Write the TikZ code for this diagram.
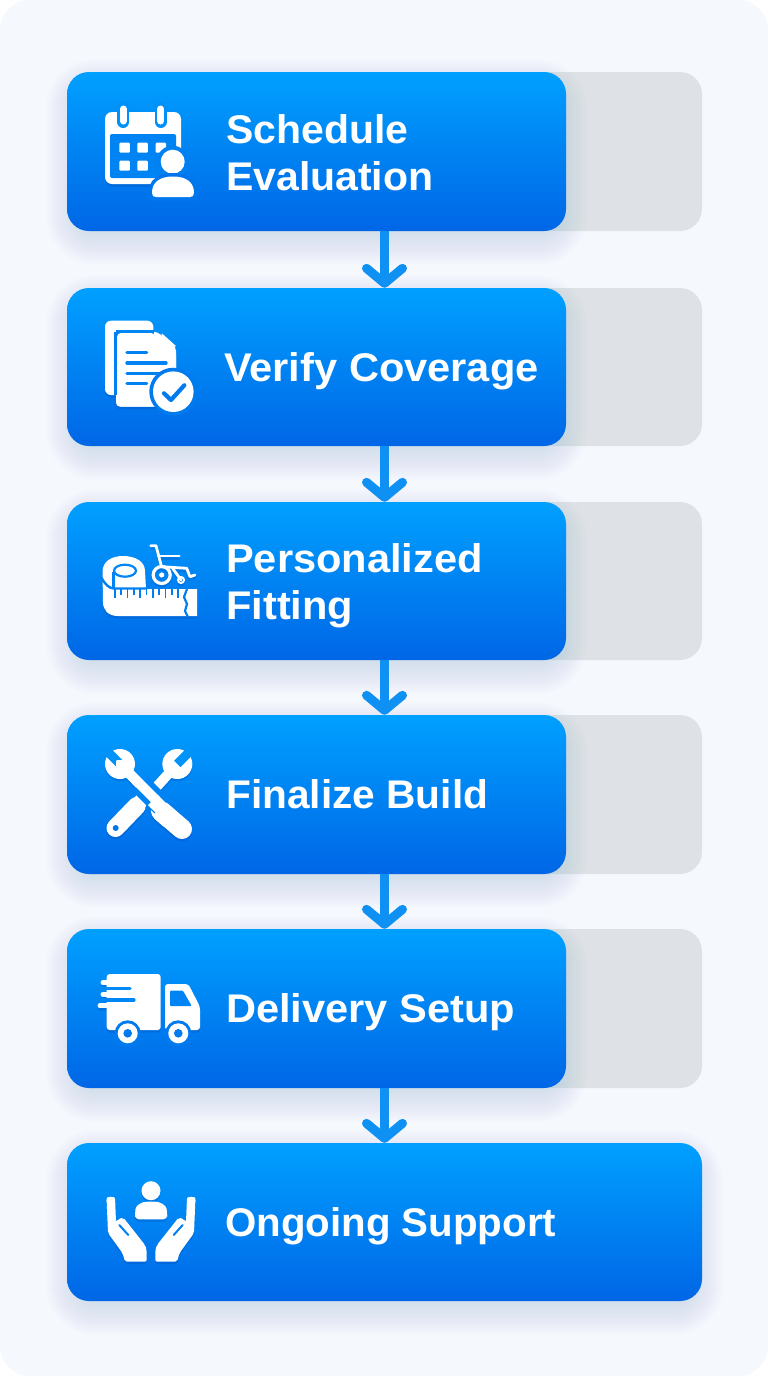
\documentclass[tikz,border=0pt]{standalone}
\usepackage{fontspec}
\setmainfont{Liberation Sans}[FakeStretch=1.04]
\usetikzlibrary{arrows.meta}
\definecolor{panelbg}{HTML}{F5F8FD}
\definecolor{trackgray}{HTML}{DEE1E6}
\definecolor{topblue}{HTML}{00A0FF}
\definecolor{botblue}{HTML}{0066E6}
\definecolor{flowblue}{HTML}{0F90F3}
\definecolor{shadeblue}{HTML}{0A6AE0}
\definecolor{icoshade}{HTML}{0046B0}
\tikzset{
  track/.style={fill=trackgray,rounded corners=22pt,inner sep=0pt,minimum width=635pt},
  card/.style={top color=topblue,bottom color=botblue,rounded corners=22pt,inner sep=0pt,minimum width=499pt},
  widecard/.style={card,minimum width=635pt},
  lab/.style={text=white,anchor=base west,inner sep=0pt,align=left,font=\fontsize{40}{47}\selectfont\bfseries,transform shape,xscale=#1},
  lab/.default=1,
  flow/.style={draw=flowblue,line width=9pt,-{Straight Barb[length=15pt,width=36pt,round,line width=9pt]}}
}
\newcommand{\softshadow}[4]{%
  \foreach \r in {1,3,...,31}{%
    \fill[shadeblue,opacity=0.009,rounded corners=18pt+\r pt]
      ({#1+10-\r},{#2+18-\r}) rectangle ({#3-10+\r},{#4+3+\r});
  }%
}
% mix = percentage of the card's top colour at the height of the cut-out
\newcommand{\cb}[1]{topblue!#1!botblue}
% #1 silhouette, #2 cut-outs and details
\newcommand{\glyphicon}[2]{%
  \begin{scope}
    \colorlet{icofg}{white}
    \begin{scope}[transparency group,opacity=.25,yshift=-2.5pt]
      \colorlet{icofg}{icoshade}#1
    \end{scope}
    #1
    #2
  \end{scope}%
}
\begin{document}
\begin{tikzpicture}[x=1pt,y=-1pt]
\useasboundingbox (0,0) rectangle (768,1376);
\fill[white] (0,0) rectangle (768,1376);
\fill[panelbg,rounded corners=30pt] (0,0) rectangle (768,1376);

% grey tracks
\node[track,minimum height=159pt] (t1) at (384.5,151.5) {};
\node[track,minimum height=158pt] (t2) at (384.5,367) {};
\node[track,minimum height=158pt] (t3) at (384.5,581) {};
\node[track,minimum height=159pt] (t4) at (384.5,794.5) {};
\node[track,minimum height=159pt] (t5) at (384.5,1008.5) {};

% shadows
\softshadow{67}{72}{566}{231}
\softshadow{67}{288}{566}{446}
\softshadow{67}{502}{566}{660}
\softshadow{67}{715}{566}{874}
\softshadow{67}{929}{566}{1088}
\softshadow{67}{1143}{702}{1301}

% cards
\node[card,minimum height=159pt] (c1) at (316.5,151.5) {};
\node[card,minimum height=158pt] (c2) at (316.5,367) {};
\node[card,minimum height=158pt] (c3) at (316.5,581) {};
\node[card,minimum height=159pt] (c4) at (316.5,794.5) {};
\node[card,minimum height=159pt] (c5) at (316.5,1008.5) {};
\node[widecard,minimum height=158pt] (c6) at (384.5,1222) {};

% connectors
\draw[flow] (t1.south) -- (t2.north);
\draw[flow] (t2.south) -- (t3.north);
\draw[flow] (t3.south) -- (t4.north);
\draw[flow] (t4.south) -- (t5.north);
\draw[flow] (t5.south) -- (c6.north);

% labels
\node[lab=.985] (l1) at (226,190) {Schedule\\Evaluation};
\node[lab] (l2) at (224,381) {Verify Coverage};
\node[lab] (l3) at (226,619) {Personalized\\Fitting};
\node[lab=.977] (l4) at (226,808) {Finalize Build};
\node[lab] (l5) at (226,1022) {Delivery Setup};
\node[lab=.968] (l6) at (225,1236) {Ongoing Support};

% icon 1: calendar and person
\glyphicon{%
  \fill[icofg,rounded corners=7pt] (105,112) rectangle (181,184);
  \draw[icofg,line width=7pt,line cap=round] (123.3,109) -- (123.3,121);
  \draw[icofg,line width=7pt,line cap=round] (160.7,109) -- (160.7,121);
  \fill[icofg] (172.7,161.7) circle (12);
  \fill[icofg] (152,193) .. controls (152,182) and (160,176.5) .. (173,176.5) .. controls (186,176.5) and (194,182) .. (194,193) .. controls (194,196) and (192,197) .. (190,197) -- (156,197) .. controls (153.5,197) and (152,196) .. (152,193) -- cycle;
}{%
  \fill[\cb{50},rounded corners=2pt] (110,134) rectangle (176,178);
  \foreach \x in {123.3,160.7}{%
    \draw[\cb{72},line width=12pt,line cap=round] (\x,108) -- (\x,122);
    \draw[white,line width=7pt,line cap=round] (\x,109) -- (\x,121);
  }
  \foreach \x/\y in {119.3/142.7,137.3/142.7,155.7/142.7,119.3/160.7,137.3/160.7}{%
    \fill[white,rounded corners=1pt] (\x,\y) rectangle +(10.5,10);
  }
  \fill[\cb{45}] (172.7,161.7) circle (16);
  \fill[white] (172.7,161.7) circle (12);
  \filldraw[draw=\cb{27},fill=\cb{27},line width=7pt] (152,193) .. controls (152,182) and (160,176.5) .. (173,176.5) .. controls (186,176.5) and (194,182) .. (194,193) -- (194,197) -- (152,197) -- cycle;
  \fill[white] (152,193) .. controls (152,182) and (160,176.5) .. (173,176.5) .. controls (186,176.5) and (194,182) .. (194,193) .. controls (194,196) and (192,197) .. (190,197) -- (156,197) .. controls (153.5,197) and (152,196) .. (152,193) -- cycle;
}

% icon 2: documents and check
\glyphicon{%
  \fill[icofg,rounded corners=6pt] (105,320.7) rectangle (153.3,395);
  \fill[icofg,rounded corners=4pt] (116,331.7) -- (157,331.7) -- (176,347) -- (176,406.7) -- (116,406.7) -- cycle;
  \fill[icofg] (173.3,391.7) circle (20.3);
}{%
  \draw[\cb{55},line width=4pt,rounded corners=4pt] (116,331.7) -- (153.5,331.7);
  \draw[\cb{45},line width=4pt] (116,331.7) -- (116,395);
  \fill[white,rounded corners=4pt] (117,333) -- (155,333) -- (157,347) -- (162,350) -- (176,351) -- (176,406.7) -- (117,406.7) -- cycle;
  \fill[white,rounded corners=1pt] (161.5,333) -- (176.5,346.5) -- (163,346.5) -- cycle;
  \foreach \a/\b in {352.3/146.7,363/166,373.3/166,383.7/146.7}{%
    \draw[\cb{48},line width=3.4pt,line cap=round] (127,\a) -- (\b,\a);
  }
  \fill[\cb{35}] (173.3,391.7) circle (24);
  \fill[white] (173.3,391.7) circle (20.3);
  \draw[\cb{35},line width=4.2pt,line cap=round,line join=round] (164,393.3) -- (171,400) -- (184.3,385.3);
}

% icon 3: tape and wheelchair
\glyphicon{%
  \fill[icofg] (102.5,572) .. controls (102.5,561) and (112,556) .. (123,556) .. controls (136,556) and (145,562) .. (145,571) -- (146,589) -- (197,589) -- (197,616) -- (118,616) .. controls (108,616) and (103,610) .. (103,602) -- cycle;
  \draw[icofg,line width=2.8pt,line cap=round,line join=round] (150.7,545.7) -- (156,545.7) -- (161.5,566.7) -- (186.7,568.3) -- (190,576.7) -- (195,575);
  \draw[icofg,line width=2.8pt,line cap=round] (158.3,556) -- (179.3,556);
  \draw[icofg,line width=2.8pt,line cap=round] (172,567.5) -- (181,580);
  \draw[icofg,line width=3.2pt] (161.7,575) circle (8.5);
  \fill[icofg] (161.7,575) circle (2.6);
  \draw[icofg,line width=2pt] (181,580) circle (3);
}{%
  \draw[\cb{55},line width=2.2pt] (125,570.7) ellipse (11 and 6);
  \draw[\cb{52},line width=2.2pt] (113.5,572) -- (113.5,588);
  \draw[\cb{45},line width=2.4pt] (101.5,578) .. controls (105,584) and (109,588.5) .. (114,588.5) -- (147,588.5);
  \foreach \x [count=\i] in {115,121.3,127.6,133.9,140.2,146.5,152.8,159.1,165.4,171.7,178}{%
    \pgfmathsetmacro{\tl}{mod(\i,2)==1 ? 598 : 595}
    \draw[\cb{42},line width=1.7pt] (\x,589) -- (\x,\tl);
  }
  \draw[\cb{42},line width=2.2pt,line join=round] (187,589) -- (184,597) -- (187,604) -- (185,611) -- (188,617);
}

% icon 4: crossed tools
\glyphicon{%
  \fill[icofg] (120,764) circle (15);
  \fill[icofg] (177.3,764) circle (15);
  \draw[icofg,line width=10pt] (177.3,764) -- (156.7,786.7);
  \draw[icofg,line width=18pt,line cap=round] (136.7,806) -- (115.5,828);
  \draw[icofg,line width=14pt] (145,796) -- (136.7,806);
  \draw[icofg,line width=10pt] (120,764) -- (158,803);
  \draw[icofg,line width=20pt,line cap=round] (161,811) -- (182,829);
}{%
  \draw[\cb{78},line width=9pt] (108,752) -- (120,764);
  \draw[\cb{78},line width=9pt] (189.3,752) -- (177.3,764);
  \draw[\cb{50},line width=21pt] (140,784) -- (162,806);
  \fill[white,rounded corners=1pt] (116,760) -- (123,760) -- (160,797) -- (153,804) -- (116,767) -- cycle;
  \draw[white,line width=14pt] (153,810) -- (163,800);
  \draw[white,line width=20pt] (161,811) -- (170,819);
  \fill[\cb{29}] (115.7,828) circle (3);
}

% icon 5: delivery truck
\glyphicon{%
  \fill[icofg,rounded corners=3pt] (106.7,974) rectangle (160.7,1030);
  \draw[icofg,line width=5pt,line cap=round] (103,982.7) -- (120,982.7);
  \draw[icofg,line width=5pt,line cap=round] (103,994.3) -- (125,994.3);
  \draw[icofg,line width=5pt,line cap=round] (100,1005.7) -- (120,1005.7);
  \fill[icofg,rounded corners=3pt] (165,984) -- (188.3,984) -- (200,1006.7) -- (200,1030) -- (165,1030) -- cycle;
  \fill[icofg] (127.7,1033.3) circle (10);
  \fill[icofg] (178.3,1033.3) circle (10);
}{%
  \draw[\cb{62},line width=3.2pt,line cap=round] (100,988.5) -- (130,988.5);
  \draw[\cb{55},line width=3.2pt,line cap=round] (100,1000) -- (134,1000);
  \fill[\cb{52},rounded corners=1pt] (170,990.7) -- (183,990.7) -- (191.7,1006) -- (170,1006) -- cycle;
  \foreach \x in {127.7,178.3}{%
    \fill[\cb{35}] (\x,1033.3) circle (13);
    \fill[white] (\x,1033.3) circle (10);
    \fill[\cb{35}] (\x,1033.3) circle (4.3);
  }
}

% icon 6: caring hands
\glyphicon{%
  \fill[icofg] (151,1190.7) circle (9.5);
  \fill[icofg,rounded corners=4pt] (135,1219.3) -- (135,1213) .. controls (136,1205) and (142,1201.7) .. (151,1201.7) .. controls (160,1201.7) and (166,1205) .. (167.3,1213) -- (167.3,1219.3) -- cycle;
  \foreach \t in {0,1}{%
    \begin{scope}[xshift=\t*302pt,xscale=1-2*\t]
      \fill[icofg,rounded corners=2pt] (106.5,1197) -- (115,1197) -- (116,1222) -- (118.5,1219) -- (123.3,1217.5) -- (145,1245) -- (146.7,1250) -- (146.7,1261.7) -- (125,1261.7) -- (122.5,1253) -- (108,1233) -- cycle;
      \fill[icofg] (110.8,1201) circle (4.3);
    \end{scope}
  }
}{%
  \foreach \t in {0,1}{%
    \begin{scope}[xshift=\t*302pt,xscale=1-2*\t]
      \draw[\cb{45},line width=2pt,line cap=round] (119.3,1225) -- (128.3,1235);
    \end{scope}
  }
}
\end{tikzpicture}
\end{document}
